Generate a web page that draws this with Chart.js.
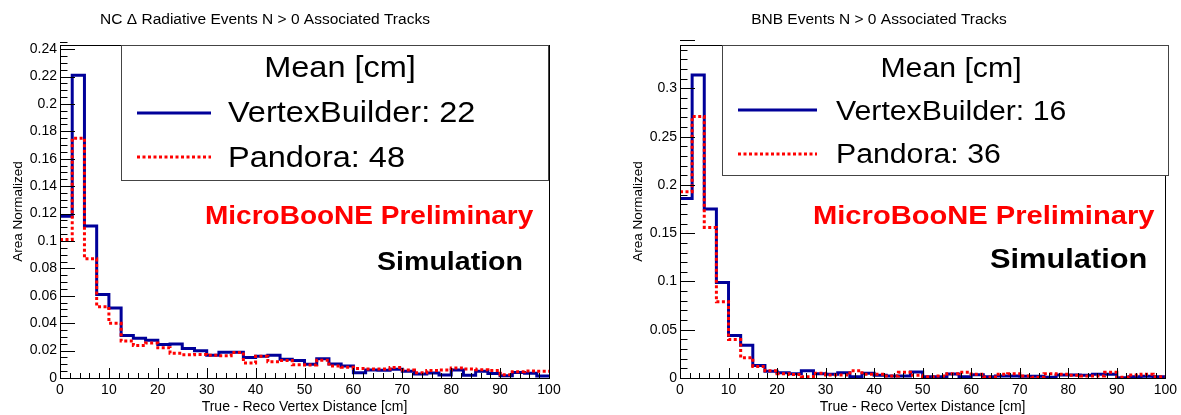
<!DOCTYPE html>
<html>
<head>
<meta charset="utf-8">
<script src="https://cdn.jsdelivr.net/npm/chart.js@4.4.1/dist/chart.umd.min.js"></script>
<style>
  body { margin: 0; background: #fff; }
  #wrap { position: relative; width: 1181px; height: 415px; }
  canvas { position: absolute; top: 0; }
</style>
</head>
<body>
<div id="wrap">
  <canvas id="ncChart" width="620" height="415" style="left:0"></canvas>
  <canvas id="bnbChart" width="561" height="415" style="left:620px"></canvas>
</div>
<script>
// lower edges of the 2.5 cm bins
const binEdges = [0, 2.5, 5, 7.5, 10, 12.5, 15, 17.5, 20, 22.5,
                  25, 27.5, 30, 32.5, 35, 37.5, 40, 42.5, 45, 47.5,
                  50, 52.5, 55, 57.5, 60, 62.5, 65, 67.5, 70, 72.5,
                  75, 77.5, 80, 82.5, 85, 87.5, 90, 92.5, 95, 97.5];
const xMax = 100;

// NC Delta radiative sample
const ncVertexBuilder = [0.118, 0.221, 0.111, 0.061, 0.051, 0.031, 0.029, 0.0275, 0.0244, 0.0249,
                         0.0215, 0.0198, 0.0166, 0.0188, 0.0188, 0.0150, 0.0158, 0.0166, 0.0136, 0.0128,
                         0.0101, 0.0141, 0.0102, 0.0088, 0.0039, 0.0059, 0.0056, 0.0063, 0.0049, 0.0030,
                         0.0037, 0.0022, 0.0059, 0.0020, 0.0049, 0.0032, 0.0017, 0.0041, 0.0034, 0.0015];
const ncPandora = [0.101, 0.175, 0.087, 0.052, 0.040, 0.027, 0.0237, 0.0256, 0.022, 0.018,
                   0.0170, 0.0172, 0.0166, 0.0162, 0.0186, 0.0110, 0.0158, 0.0118, 0.0128, 0.0096,
                   0.0095, 0.0130, 0.0088, 0.0078, 0.0070, 0.0066, 0.0066, 0.0076, 0.0059, 0.0039,
                   0.0054, 0.0059, 0.0073, 0.0066, 0.0061, 0.0054, 0.0024, 0.0046, 0.0051, 0.0049];

// BNB sample
const bnbVertexBuilder = [0.186, 0.314, 0.175, 0.099, 0.044, 0.034, 0.013, 0.0069, 0.0055, 0.0045,
                          0.0076, 0.0045, 0.0040, 0.0055, 0.0014, 0.0048, 0.0028, 0.0020, 0.0020, 0.0062,
                          0.0014, 0.0014, 0.0041, 0.0014, 0.0034, 0.0014, 0.0020, 0.0020, 0.0017, 0.0017,
                          0.0007, 0.0030, 0.0030, 0.0028, 0.0040, 0.0040, 0.0003, 0.0014, 0.0017, 0.0014];
const bnbPandora = [0.193, 0.271, 0.156, 0.079, 0.040, 0.021, 0.012, 0.0076, 0.0045, 0.0035,
                    0.0014, 0.0050, 0.0030, 0.0030, 0.0076, 0.0038, 0.0038, 0.0020, 0.0059, 0.0028,
                    0.0014, 0.0020, 0.0045, 0.0059, 0.0038, 0.0010, 0.0040, 0.0045, 0.0020, 0.0007,
                    0.0045, 0.0038, 0.0028, 0.0020, 0.0020, 0.0060, 0.0007, 0.0030, 0.0038, 0.0014];

// tick labels
const xTickValues = [0, 10, 20, 30, 40, 50, 60, 70, 80, 90, 100];
const ncYTickValues = [0, 0.02, 0.04, 0.06, 0.08, 0.1, 0.12, 0.14, 0.16, 0.18, 0.2, 0.22, 0.24];
const bnbYTickValues = [0, 0.05, 0.1, 0.15, 0.2, 0.25, 0.3];

const FONT = '"Liberation Sans", Arial, Helvetica, sans-serif';

function histPoints(vals) {
    const pts = binEdges.map((x, i) => ({ x: x, y: vals[i] }));
    pts.push({ x: xMax, y: vals[vals.length - 1] });
    return pts;
}

function drawText(ctx, str, x, y, font, color, align, sx) {
    ctx.save();
    ctx.font = font;
    ctx.fillStyle = color;
    ctx.textAlign = align || 'left';
    ctx.textBaseline = 'alphabetic';
    ctx.translate(x, y);
    ctx.scale(sx || 1, 1);
    ctx.fillText(str, 0, 0);
    ctx.restore();
}

// ROOT-like frame, inward ticks, titles, legend box and labels
const rootStyle = {
    id: 'rootStyle',
    afterDatasetsDraw(chart, args, o) {
        const { ctx, chartArea: a } = chart;
        const x = chart.scales.x, y = chart.scales.y;
        ctx.save();
        ctx.strokeStyle = '#000';
        ctx.lineWidth = 1;
        ctx.setLineDash([]);

        // y ticks
        const ny = Math.round(y.max / o.yMinor + 1e-6);
        ctx.beginPath();
        for (let i = 0; i <= ny; i++) {
            const py = Math.round(y.getPixelForValue(i * o.yMinor)) + 0.5;
            const len = (i % o.yPerMajor === 0) ? 15 : 7.5;
            ctx.moveTo(a.left, py);
            ctx.lineTo(a.left + len, py);
        }
        // x ticks
        const nx = Math.round(xMax / o.xMinor);
        for (let i = 0; i <= nx; i++) {
            const px = Math.round(x.getPixelForValue(i * o.xMinor)) + 0.5;
            const len = (i % o.xPerMajor === 0) ? 10 : 5;
            ctx.moveTo(px, a.bottom);
            ctx.lineTo(px, a.bottom - len);
        }
        ctx.stroke();

        // frame
        ctx.strokeRect(Math.round(a.left) + 0.5, Math.round(a.top) + 0.5,
                       Math.round(a.right - a.left), Math.round(a.bottom - a.top));

        // titles
        drawText(ctx, o.title, o.titleX, 24, '15.5px ' + FONT, '#000', 'center');
        drawText(ctx, 'True - Reco Vertex Distance [cm]', (a.left + a.right) / 2, 411, '14px ' + FONT, '#000', 'center');
        ctx.save();
        ctx.translate(21.5, (a.top + a.bottom) / 2);
        ctx.rotate(-Math.PI / 2);
        drawText(ctx, 'Area Normalized', 0, 0, '13.5px ' + FONT, '#000', 'center');
        ctx.restore();

        // legend
        const b = o.box;
        ctx.fillStyle = '#fff';
        ctx.fillRect(b.left, b.top, b.right - b.left, b.bottom - b.top);
        ctx.strokeStyle = '#444';
        ctx.strokeRect(b.left + 0.5, b.top + 0.5, b.right - b.left, b.bottom - b.top);
        const lf = o.legendFont + 'px ' + FONT;
        drawText(ctx, 'Mean [cm]', o.meanX, 77, lf, '#000', 'center', 1.12);
        chart.data.datasets.forEach((ds, i) => {
            const ly = o.sampleY[i];
            ctx.save();
            ctx.strokeStyle = ds.borderColor;
            ctx.lineWidth = ds.borderWidth;
            ctx.setLineDash(ds.borderDash || []);
            ctx.beginPath();
            ctx.moveTo(o.sample[0], ly);
            ctx.lineTo(o.sample[1], ly);
            ctx.stroke();
            ctx.restore();
            drawText(ctx, ds.label, o.textX, o.textY[i], lf, '#000', 'left', 1.12);
        });

        drawText(ctx, 'MicroBooNE Preliminary', o.prelim[0], o.prelim[1], 'bold ' + o.prelim[2] + 'px ' + FONT, '#ff0000', 'left', 1.12);
        drawText(ctx, 'Simulation', o.sim[0], o.sim[1], 'bold ' + o.sim[2] + 'px ' + FONT, '#000', 'left', 1.12);
        ctx.restore();
    }
};

function fmt(v) { return String(+v.toFixed(3)); }

function makeChart(id, vb, pan, vbLabel, panLabel, yMax, yTicks, rightPad, style) {
    return new Chart(document.getElementById(id), {
        type: 'line',
        data: {
            datasets: [{
                label: vbLabel,
                data: histPoints(vb),
                borderColor: '#000099',
                borderWidth: 3,
                stepped: 'before',
                pointRadius: 0,
                fill: false,
                order: 2
            }, {
                label: panLabel,
                data: histPoints(pan),
                borderColor: '#ff0000',
                borderWidth: 3,
                borderDash: [3, 2.5],
                stepped: 'before',
                pointRadius: 0,
                fill: false,
                order: 1
            }]
        },
        options: {
            responsive: false,
            animation: false,
            layout: { padding: { left: 0, top: 45, right: rightPad, bottom: 0 } },
            plugins: {
                legend: { display: false },
                title: { display: false },
                tooltip: { enabled: false },
                rootStyle: style
            },
            scales: {
                x: {
                    type: 'linear',
                    min: 0,
                    max: xMax,
                    afterBuildTicks: s => { s.ticks = xTickValues.map(v => ({ value: v })); },
                    afterFit: s => { s.height = 37; },
                    grid: { display: false, drawTicks: false },
                    border: { display: false },
                    ticks: { color: '#000', font: { family: FONT, size: 14 }, padding: 4,
                             maxRotation: 0, autoSkip: false, callback: fmt }
                },
                y: {
                    type: 'linear',
                    min: 0,
                    max: yMax,
                    afterBuildTicks: s => { s.ticks = yTicks.map(v => ({ value: v })); },
                    afterFit: s => { s.width = 60; },
                    grid: { display: false, drawTicks: false },
                    border: { display: false },
                    ticks: { color: '#000', font: { family: FONT, size: 14 }, padding: 3,
                             autoSkip: false, callback: fmt }
                }
            }
        },
        plugins: [rootStyle]
    });
}

makeChart('ncChart', ncVertexBuilder, ncPandora, 'VertexBuilder: 22', 'Pandora: 48',
    0.243, ncYTickValues, 71, {
        title: 'NC \u0394 Radiative Events N > 0 Associated Tracks', titleX: 265,
        yMinor: 0.005, yPerMajor: 4, xMinor: 2, xPerMajor: 5,
        box: { left: 121, right: 548, top: 45, bottom: 180 },
        legendFont: 29, meanX: 340, sample: [137, 211], sampleY: [113, 157],
        textX: 228, textY: [122, 167],
        prelim: [205, 224, 25], sim: [377, 270, 25.5]
    });

makeChart('bnbChart', bnbVertexBuilder, bnbPandora, 'VertexBuilder: 16', 'Pandora: 36',
    0.345, bnbYTickValues, 12, {
        title: 'BNB Events N > 0 Associated Tracks', titleX: 259,
        yMinor: 0.01, yPerMajor: 5, xMinor: 2, xPerMajor: 5,
        box: { left: 102, right: 548, top: 45, bottom: 175 },
        legendFont: 27, meanX: 331, sample: [118, 197], sampleY: [110, 154],
        textX: 216, textY: [120, 163],
        prelim: [193, 224, 26], sim: [370, 268, 27.5]
    });
</script>
</body>
</html>
